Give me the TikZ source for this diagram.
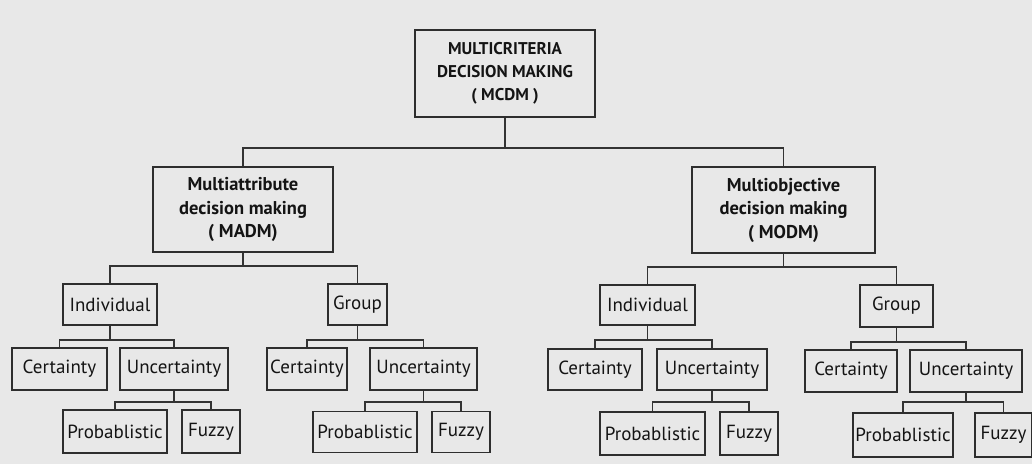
\documentclass[tikz,border=0pt]{standalone}
\usepackage{fontspec}
\setmainfont{PT Sans}
\begin{document}
\begin{tikzpicture}[x=1pt,y=-1pt,
  ink/.style={draw=black!82,line width=1.5pt},
  box/.style={ink,fill=none,inner sep=0pt,align=center,text=black!92,font=\fontsize{19}{21}\selectfont},
  capbox/.style={box,font=\bfseries\fontsize{17}{23}\selectfont},
  bigbox/.style={box,font=\bfseries\fontsize{18.5}{23.5}\selectfont},
  wire/.style={draw=black!80,line width=1.4pt}]
\useasboundingbox[fill=black!9] (0,0) rectangle (1032,464);

% top level
\node[capbox,minimum width=180pt,minimum height=87pt] (mcdm) at (505,73.5) {MULTICRITERIA\\DECISION MAKING\\( MCDM )};
\node[bigbox,minimum width=180pt,minimum height=85pt] (madm) at (243,209.5) {Multiattribute\\decision making\\( MADM)};
\node[bigbox,minimum width=183pt,minimum height=86pt] (modm) at (783.5,210) {Multiobjective\\decision making\\( MODM)};

% MADM branch
\node[box,minimum width=94pt,minimum height=41pt] (li) at (110,304.5) {Individual};
\node[box,minimum width=59pt,minimum height=41pt] (lg) at (357.5,304.5) {Group};
\node[box,minimum width=95pt,minimum height=42pt] (lic) at (59.5,369) {Certainty};
\node[box,minimum width=108pt,minimum height=42pt] (liu) at (174,369) {Uncertainty};
\node[box,minimum width=104pt,minimum height=43pt] (liup) at (115,431.5) {Probablistic};
\node[box,minimum width=58pt,minimum height=43pt] (liuf) at (211,431.5) {Fuzzy};
\node[box,minimum width=80pt,minimum height=42pt] (lgc) at (307,369) {Certainty};
\node[box,minimum width=107pt,minimum height=42pt] (lgu) at (423.5,369) {Uncertainty};
\node[box,minimum width=104pt,minimum height=41pt] (lgup) at (365,432) {Probablistic};
\node[box,minimum width=58pt,minimum height=41pt] (lguf) at (461,432) {Fuzzy};

% MODM branch
\node[box,minimum width=95pt,minimum height=40pt] (ri) at (647.5,305) {Individual};
\node[box,minimum width=73pt,minimum height=42pt] (rg) at (896.5,306) {Group};
\node[box,minimum width=94pt,minimum height=41pt] (ric) at (595,369.5) {Certainty};
\node[box,minimum width=110pt,minimum height=41pt] (riu) at (712,369.5) {Uncertainty};
\node[box,minimum width=105pt,minimum height=43pt] (riup) at (652.5,433.5) {Probablistic};
\node[box,minimum width=58pt,minimum height=43pt] (riuf) at (749,433.5) {Fuzzy};
\node[box,minimum width=92pt,minimum height=42pt] (rgc) at (851,371) {Certainty};
\node[box,minimum width=112pt,minimum height=42pt] (rgu) at (966,371) {Uncertainty};
\node[box,minimum width=100pt,minimum height=44pt] (rgup) at (903,435) {Probablistic};
\node[box,minimum width=57pt,minimum height=44pt] (rguf) at (1003.5,435) {Fuzzy};

% heights of the horizontal bars
\coordinate (b0) at (0,148);
\coordinate (b1) at (0,266);
\coordinate (b2) at (0,267);
\coordinate (b3) at (0,340);
\coordinate (b4) at (0,342);
\coordinate (b5) at (0,402);

% parent -> two children through a horizontal bar
\newcommand\forkto[4]{%
  \draw[wire] (#1.south) -- (#1.south |- #4);
  \draw[wire] (#2.north) -- (#2.north |- #4) -- (#3.north |- #4) -- (#3.north);}

\forkto{mcdm}{madm}{modm}{b0}
\forkto{madm}{li}{lg}{b1}
\forkto{modm}{ri}{rg}{b2}
\forkto{li}{lic}{liu}{b3}
\forkto{lg}{lgc}{lgu}{b3}
\forkto{ri}{ric}{riu}{b3}
\forkto{rg}{rgc}{rgu}{b4}
\forkto{liu}{liup}{liuf}{b5}
\forkto{lgu}{lgup}{lguf}{b5}
\forkto{riu}{riup}{riuf}{b5}
\forkto{rgu}{rgup}{rguf}{b5}
\end{tikzpicture}
\end{document}
